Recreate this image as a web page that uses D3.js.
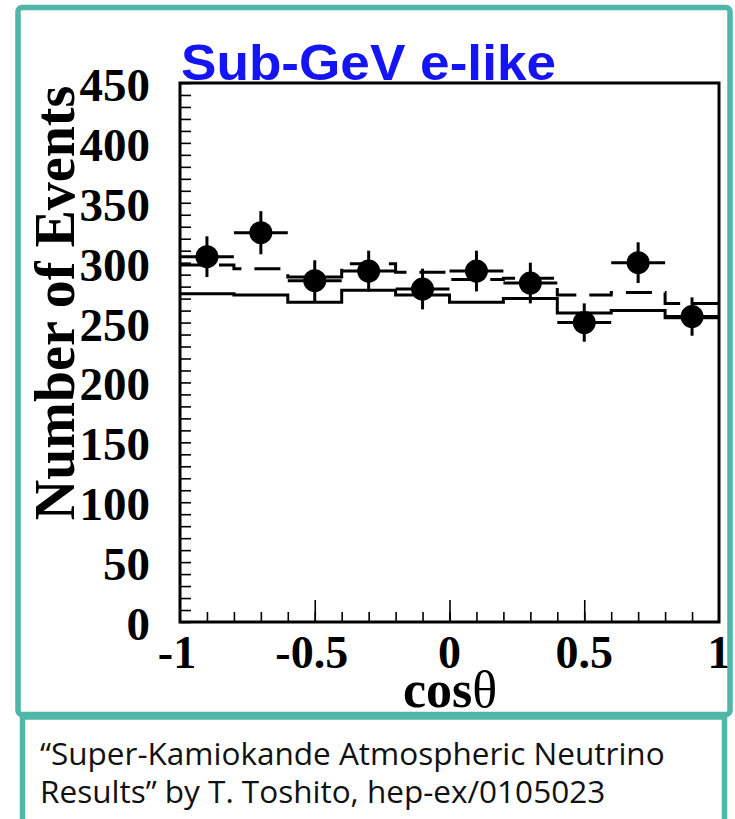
<!DOCTYPE html>
<html>
<head>
<meta charset="utf-8">
<script src="https://cdn.jsdelivr.net/npm/d3@7"></script>
<style>
  body { margin: 0; background: #fff; }
  svg { display: block; }
</style>
</head>
<body>
<div id="chart"></div>
<script>
// bin centres in cos(theta), width 0.2
const cosBins = [-0.9, -0.7, -0.5, -0.3, -0.1, 0.1, 0.3, 0.5, 0.7, 0.9];
const dataCounts = [305, 325, 285, 293, 278, 293, 283, 250, 300, 255];
const dataErr = [17, 18, 17, 17, 17, 17, 17, 16, 17, 16];
// MC without oscillation (solid) and best-fit oscillation (dashed)
const noOscMC = [274, 273, 267, 277, 273, 267, 270, 258, 260, 254];
const oscMC = [298, 295, 288, 299, 292, 286, 287, 273, 275, 266];
const xTickLabels = [-1, -0.5, 0, 0.5, 1];
const yTickLabels = [0, 50, 100, 150, 200, 250, 300, 350, 400, 450];

const W = 735, H = 819;
const binW = 0.2;
const plotL = 180, plotR = 719, plotT = 83, plotB = 622;
const teal = "#4fb6a8";

const svg = d3.select("#chart").append("svg")
  .attr("width", W)
  .attr("height", H);

const x = d3.scaleLinear().domain([-1, 1]).range([plotL, plotR]);
const y = d3.scaleLinear().domain([0, 450]).range([plotB, plotT]);

// title
svg.append("text")
  .text("Sub-GeV e-like")
  .attr("x", 181)
  .attr("y", 80)
  .attr("textLength", 375)
  .attr("lengthAdjust", "spacingAndGlyphs")
  .style("font-family", "'Liberation Sans', Arial, sans-serif")
  .style("font-weight", "bold")
  .style("font-size", "50px")
  .style("fill", "#1414f4");

// y ticks (every 10, inside frame)
const yAxis = d3.axisLeft(y)
  .tickValues(d3.range(0, 451, 10))
  .tickSize(-11)
  .tickFormat("");
svg.append("g")
  .attr("transform", "translate(" + plotL + ",0)")
  .call(yAxis)
  .call(g => g.select(".domain").remove())
  .selectAll("line").attr("stroke", "#000").attr("stroke-width", 1.6);

// x ticks: minor every 0.1, major every 0.5
const xMinor = d3.axisBottom(x)
  .tickValues(d3.range(-9, 10).map(d => d / 10))
  .tickSize(-10)
  .tickFormat("");
svg.append("g")
  .attr("transform", "translate(0," + plotB + ")")
  .call(xMinor)
  .call(g => g.select(".domain").remove())
  .selectAll("line").attr("stroke", "#000").attr("stroke-width", 1.6);

const xMajor = d3.axisBottom(x)
  .tickValues([-0.5, 0, 0.5])
  .tickSize(-22)
  .tickFormat("");
svg.append("g")
  .attr("transform", "translate(0," + plotB + ")")
  .call(xMajor)
  .call(g => g.select(".domain").remove())
  .selectAll("line").attr("stroke", "#000").attr("stroke-width", 1.6);

// tick labels
const labelFont = "'Liberation Serif', 'Times New Roman', serif";
svg.append("g")
  .selectAll("text")
  .data(yTickLabels)
  .enter()
  .append("text")
  .text(d => d)
  .attr("x", 150)
  .attr("y", d => y(d) + 18)
  .attr("text-anchor", "end")
  .style("font-family", labelFont)
  .style("font-weight", "bold")
  .style("font-size", "47px");

svg.append("g")
  .selectAll("text")
  .data(xTickLabels)
  .enter()
  .append("text")
  .text(d => d)
  .attr("x", d => x(d) - (d < 0 ? 3 : 0))
  .attr("y", 668)
  .attr("text-anchor", "middle")
  .style("font-family", labelFont)
  .style("font-weight", "bold")
  .style("font-size", "46px");

// axis titles
svg.append("text")
  .text("Number of Events")
  .attr("transform", "translate(74,303) rotate(-90)")
  .attr("text-anchor", "middle")
  .style("font-family", labelFont)
  .style("font-weight", "bold")
  .style("font-size", "56px");

const xt = svg.append("text")
  .attr("x", 450)
  .attr("y", 707)
  .attr("text-anchor", "middle")
  .style("font-family", labelFont)
  .style("font-size", "52px");
xt.append("tspan").text("cos").style("font-weight", "bold");
xt.append("tspan").text("θ");

// histograms
function stepPoints(vals) {
  const pts = [];
  vals.forEach((v, i) => {
    pts.push([cosBins[i] - binW / 2, v]);
    pts.push([cosBins[i] + binW / 2, v]);
  });
  return pts;
}
const line = d3.line().x(d => x(d[0])).y(d => y(d[1]));

svg.append("path")
  .attr("d", line(stepPoints(noOscMC)))
  .attr("fill", "none")
  .attr("stroke", "#000")
  .attr("stroke-width", 3);

svg.append("path")
  .attr("d", line(stepPoints(oscMC)))
  .attr("fill", "none")
  .attr("stroke", "#000")
  .attr("stroke-width", 3)
  .attr("stroke-dasharray", "26,13");

// data points with error bars
const pts = svg.append("g");
cosBins.forEach((c, i) => {
  const v = dataCounts[i], e = dataErr[i];
  pts.append("line")
    .attr("x1", x(c - binW / 2)).attr("x2", x(c + binW / 2))
    .attr("y1", y(v)).attr("y2", y(v))
    .attr("stroke", "#000").attr("stroke-width", 3);
  pts.append("line")
    .attr("x1", x(c)).attr("x2", x(c))
    .attr("y1", y(v - e)).attr("y2", y(v + e))
    .attr("stroke", "#000").attr("stroke-width", 3);
  pts.append("circle")
    .attr("cx", x(c)).attr("cy", y(v))
    .attr("r", 11.5)
    .attr("fill", "#000");
});

// frame
svg.append("rect")
  .attr("x", plotL).attr("y", plotT)
  .attr("width", plotR - plotL).attr("height", plotB - plotT)
  .attr("fill", "none")
  .attr("stroke", "#000")
  .attr("stroke-width", 3);

// caption box and outer border
svg.append("rect")
  .attr("x", 18).attr("y", 7.5)
  .attr("width", 712).attr("height", 707)
  .attr("rx", 4)
  .attr("fill", "none")
  .attr("stroke", teal)
  .attr("stroke-width", 5.5);

svg.append("rect")
  .attr("x", 22.5).attr("y", 717)
  .attr("width", 702).attr("height", 130)
  .attr("fill", "#fff")
  .attr("stroke", teal)
  .attr("stroke-width", 5.5);

const capFont = "'Open Sans', 'Noto Sans', sans-serif";
svg.append("text")
  .text("“Super-Kamiokande Atmospheric Neutrino")
  .attr("x", 40).attr("y", 765)
  .style("font-family", capFont)
  .style("font-size", "31.5px")
  .style("fill", "#111");
svg.append("text")
  .text("Results” by T. Toshito, hep-ex/0105023")
  .attr("x", 40).attr("y", 803)
  .style("font-family", capFont)
  .style("font-size", "31.5px")
  .style("fill", "#111");
</script>
</body>
</html>
